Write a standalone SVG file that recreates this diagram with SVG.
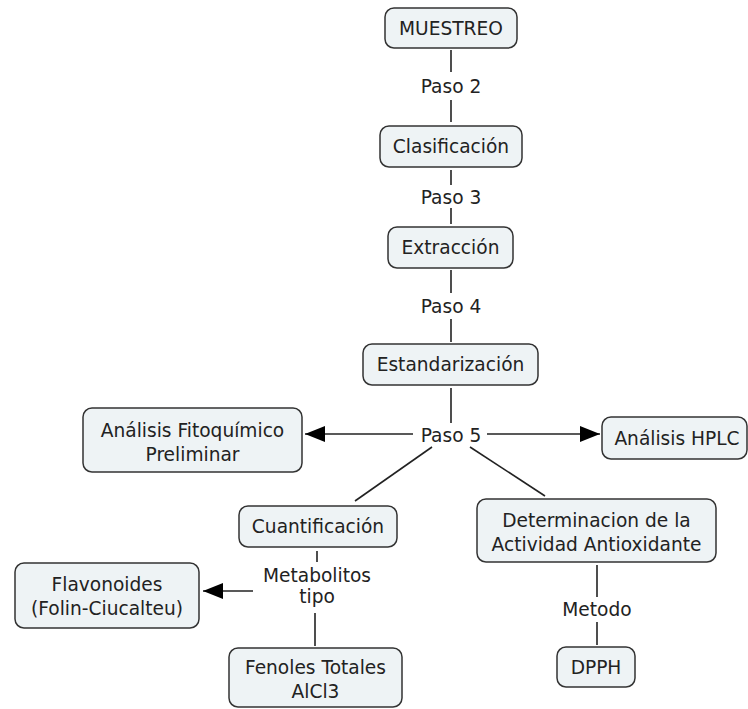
<svg xmlns="http://www.w3.org/2000/svg" width="748" height="709" viewBox="0 0 748 709">
<defs>
<style>
.box{fill:#eef3f5;stroke:#333;stroke-width:1.5}
.t{font-family:"DejaVu Sans",Verdana,sans-serif;font-size:18.6px;fill:#222;text-anchor:middle}
.c{stroke:#222;stroke-width:1.6;fill:none}
</style>
<marker id="ah" markerUnits="userSpaceOnUse" markerWidth="22" markerHeight="16" refX="20" refY="8" orient="auto">
<path d="M0,0 L20,8 L0,16 Z" fill="#000"/>
</marker>
</defs>
<rect width="748" height="709" fill="#fff"/>
<g id="connectors">
<line class="c" x1="451" y1="50" x2="451" y2="72"/>
<line class="c" x1="451" y1="100" x2="451" y2="122"/>
<line class="c" x1="451" y1="170" x2="451" y2="185"/>
<line class="c" x1="451" y1="208" x2="451" y2="224"/>
<line class="c" x1="451" y1="270" x2="451" y2="293"/>
<line class="c" x1="451" y1="319" x2="451" y2="342"/>
<line class="c" x1="451" y1="388" x2="451" y2="423"/>
<line class="c" x1="413" y1="434" x2="305" y2="434" marker-end="url(#ah)"/>
<line class="c" x1="487" y1="434" x2="600" y2="434" marker-end="url(#ah)"/>
<line class="c" x1="432" y1="447" x2="355" y2="501"/>
<line class="c" x1="470" y1="447" x2="545" y2="496"/>
<line class="c" x1="317" y1="551" x2="317" y2="562"/>
<line class="c" x1="253" y1="591" x2="203" y2="591" marker-end="url(#ah)"/>
<line class="c" x1="315" y1="613" x2="315" y2="646"/>
<line class="c" x1="597" y1="565" x2="597" y2="597"/>
<line class="c" x1="597" y1="622" x2="597" y2="645"/>
<text class="t" x="451" y="93">Paso 2</text>
<text class="t" x="451" y="204">Paso 3</text>
<text class="t" x="451" y="313">Paso 4</text>
<text class="t" x="451" y="442">Paso 5</text>
<text class="t" x="317" y="582">Metabolitos</text>
<text class="t" x="317" y="603">tipo</text>
<text class="t" x="597" y="616">Metodo</text>
</g>
<g id="muestreo"><rect class="box" x="385" y="8" width="132" height="40" rx="9"/><text class="t" x="451" y="35">MUESTREO</text></g>
<g id="clasificacion"><rect class="box" x="380" y="126" width="142" height="41" rx="9"/><text class="t" x="451" y="153">Clasificación</text></g>
<g id="extraccion"><rect class="box" x="388" y="227" width="125" height="41" rx="9"/><text class="t" x="450.5" y="254">Extracción</text></g>
<g id="estandarizacion"><rect class="box" x="363" y="344" width="175" height="41" rx="9"/><text class="t" x="450.5" y="371">Estandarización</text></g>
<g id="fitoquimico"><rect class="box" x="83" y="408" width="219" height="64" rx="9"/><text class="t" x="192.5" y="437">Análisis Fitoquímico</text><text class="t" x="192.5" y="461">Preliminar</text></g>
<g id="hplc"><rect class="box" x="602" y="417" width="145" height="42" rx="9"/><text class="t" x="677" y="445">Análisis HPLC</text></g>
<g id="cuantificacion"><rect class="box" x="239" y="506" width="158" height="41" rx="9"/><text class="t" x="318" y="533">Cuantificación</text></g>
<g id="determinacion"><rect class="box" x="477" y="499" width="239" height="63" rx="9"/><text class="t" x="596.5" y="527">Determinacion de la</text><text class="t" x="596.5" y="551">Actividad Antioxidante</text></g>
<g id="flavonoides"><rect class="box" x="15" y="563" width="184" height="65" rx="9"/><text class="t" x="107" y="591">Flavonoides</text><text class="t" x="107" y="615">(Folin-Ciucalteu)</text></g>
<g id="fenoles"><rect class="box" x="229" y="648" width="173" height="59" rx="9"/><text class="t" x="315.5" y="674">Fenoles Totales</text><text class="t" x="315.5" y="698">AlCl3</text></g>
<g id="dpph"><rect class="box" x="557" y="647" width="78" height="40" rx="9"/><text class="t" x="596" y="674">DPPH</text></g>
</svg>
